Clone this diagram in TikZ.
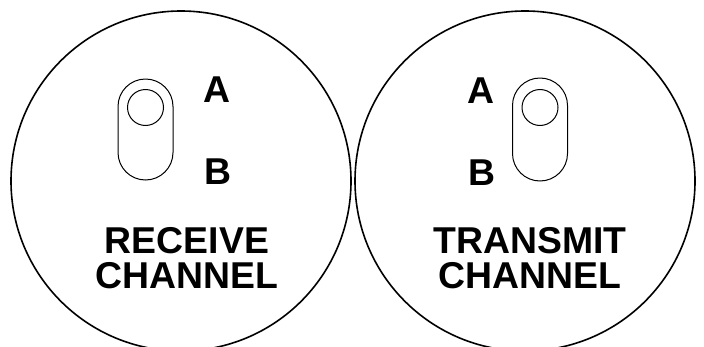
\documentclass[tikz,border=0pt]{standalone}
\usepackage{fontspec}
\setmainfont{Liberation Sans}
\begin{document}
\begin{tikzpicture}[line cap=round, line join=round, x=1bp, y=1bp,
	disc/.style={line width=1.6bp},
	slot/.style={line width=1bp, rounded corners=27.5bp},
	letter/.style={font=\fontsize{37.5}{35}\selectfont\bfseries, inner sep=0pt},
	caption/.style={letter, align=center}]
	
	% Frame of the picture (circles are cut at the bottom)
	\useasboundingbox (0,0) rectangle (704,346);
	\clip (0,0) rectangle (704,346);
	
	% Parameters
	\def\R{170} \def\rk{18}
	
	% Centres of the two dials and of the knobs
	\coordinate (OL) at (181,165);
	\coordinate (OR) at (525,165);
	\coordinate (KL) at (145.5,238.5);
	\coordinate (KR) at (540,238.5);
	
	% The two dials
	\draw[disc] (OL) circle (\R);
	\draw[disc] (OR) circle (\R);
	
	% Slide switch, receive side
	\draw[slot] (118,166) rectangle (173,267);
	\draw[slot] (KL) circle (\rk);
	
	% Slide switch, transmit side
	\draw[slot] (512.5,165) rectangle (567.5,268);
	\draw[slot] (KR) circle (\rk);
	
	% Switch positions
	\node[letter] (AL) at (217,256) {A};
	\node[letter] (BL) at (217.5,174) {B};
	\node[letter] (AR) at (480.5,255.5) {A};
	\node[letter] (BR) at (481.5,173.5) {B};
	
	% Channel names
	\node[caption] (rx) at (187,87.5) {RECEIVE\\CHANNEL};
	\node[caption] (tx) at (530,87.5) {TRANSMIT\\CHANNEL};
	
\end{tikzpicture}
\end{document}
